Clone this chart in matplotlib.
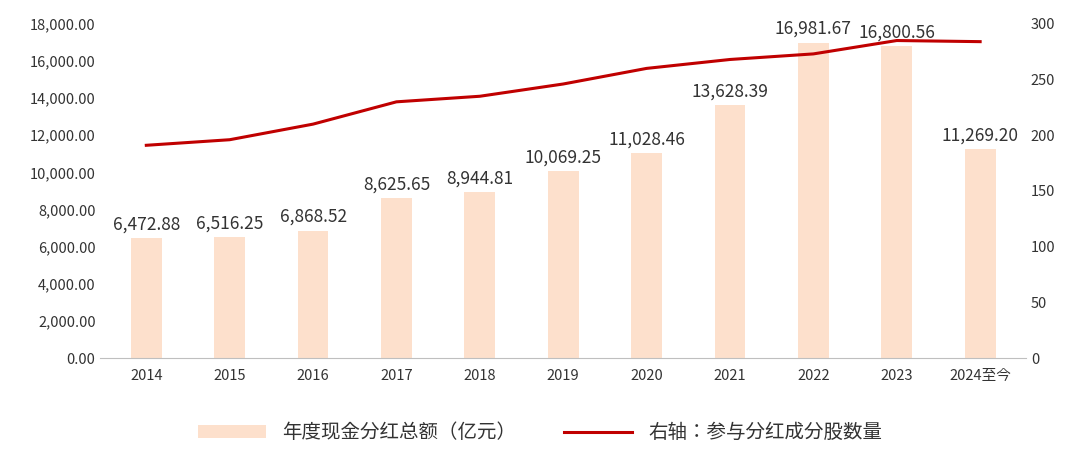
import matplotlib
matplotlib.use("Agg")
import matplotlib.pyplot as plt
from matplotlib.ticker import FuncFormatter

plt.rcParams["font.family"] = ["sans-serif"]
plt.rcParams["font.sans-serif"] = ["Noto Sans CJK JP", "Noto Sans CJK SC", "DejaVu Sans"]

years = ["2014", "2015", "2016", "2017", "2018", "2019", "2020", "2021", "2022", "2023", "2024至今"]
dividends = [6472.88, 6516.25, 6868.52, 8625.65, 8944.81, 10069.25, 11028.46, 13628.39, 16981.67, 16800.56, 11269.20]
counts = [191, 196, 210, 230, 235, 246, 260, 268, 273, 285, 284]

fig = plt.figure(figsize=(10.8, 4.58), dpi=100)
ax = fig.add_axes([0.093, 0.218, 0.857, 0.73])
x = range(len(years))
bars = ax.bar(x, dividends, width=0.37, color="#fde0cc", zorder=2)
for i, v in enumerate(dividends):
    ax.text(i, v + 250, f"{v:,.2f}", ha="center", va="bottom", fontsize=12.5, color="#333333")
ax.set_ylim(0, 18000)
ax.set_yticks(range(0, 18001, 2000))
ax.yaxis.set_major_formatter(FuncFormatter(lambda v, p: f"{v:,.2f}"))
ax.set_xlim(-0.55, len(years) - 0.45)
ax.set_xticks(list(x))
ax.set_xticklabels(years)
for s in ["top", "right", "left"]:
    ax.spines[s].set_visible(False)
ax.spines["bottom"].set_color("#bfbfbf")
ax.tick_params(axis="both", length=0, labelsize=10.5, colors="#333333")
ax.tick_params(axis="x", pad=8)

ax2 = ax.twinx()
line, = ax2.plot(list(x), counts, color="#c00000", lw=2.2)
ax2.set_ylim(0, 300)
ax2.set_yticks(range(0, 301, 50))
for s in ["top", "right", "left", "bottom"]:
    ax2.spines[s].set_visible(False)
ax2.tick_params(axis="y", length=0, labelsize=10.5, colors="#333333")

fig.legend([bars, line], ["年度现金分红总额（亿元）", "右轴：参与分红成分股数量"],
           loc="center", bbox_to_anchor=(0.5, 0.055), ncol=2, frameon=False,
           fontsize=14, handlelength=3.5, columnspacing=2.5, labelcolor="#333333")
fig.savefig("out.png", dpi=100)
